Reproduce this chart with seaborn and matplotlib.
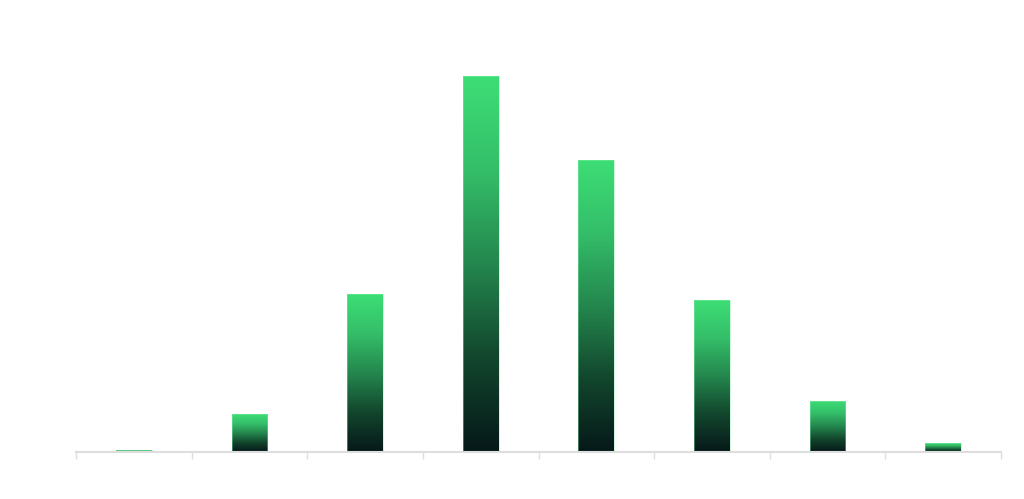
import numpy as np
import pandas as pd
import matplotlib
matplotlib.use("Agg")
import matplotlib.pyplot as plt
import seaborn as sns
from matplotlib.colors import LinearSegmentedColormap

# Data (relative heights, tallest = 100)
categories = ["1", "2", "3", "4", "5", "6", "7", "8"]
values = [0.5, 10.0, 42.0, 100.0, 77.7, 40.4, 13.6, 2.3]

df = pd.DataFrame({"category": categories, "value": values})

sns.set_theme(style="white")
fig = plt.figure(figsize=(10.24, 4.99), dpi=100)
ax = fig.add_axes([76 / 1024, 47 / 499, 925 / 1024, 432 / 499])

sns.barplot(data=df, x="category", y="value", ax=ax, width=0.31,
            color="#3ddc75", saturation=1, edgecolor="none")

stops = [(0.0, (6, 24, 25)), (0.25, (18, 70, 45)), (0.5, (36, 135, 78)),
         (0.75, (52, 190, 105)), (1.0, (61, 222, 118))]
cmap = LinearSegmentedColormap.from_list(
    "grad", [(s, tuple(c / 255 for c in col)) for s, col in stops])
grad = np.linspace(0, 1, 256).reshape(-1, 1)

for p in list(ax.patches):
    x0, y0 = p.get_x(), p.get_y()
    w, h = p.get_width(), p.get_height()
    p.set_facecolor("none")
    im = ax.imshow(grad, cmap=cmap, origin="lower", aspect="auto",
                   extent=[x0, x0 + w, y0, y0 + h], zorder=2, interpolation="bilinear")
    im.set_clip_path(p)
    p.set_edgecolor((0.55, 0.93, 0.68, 0.5))
    p.set_linewidth(0.6)
    p.set_zorder(3)

ax.set_xlim(-0.5, len(categories) - 0.5)
ax.set_ylim(0, 100 * 432 / 376)

for s in ["top", "right", "left"]:
    ax.spines[s].set_visible(False)
ax.spines["bottom"].set_color("#dedede")
ax.spines["bottom"].set_linewidth(1.5)

ax.set_xticks(np.arange(-0.5, len(categories), 1.0))
ax.set_xticklabels([])
ax.tick_params(axis="x", bottom=True, length=5, width=1, color="#dedede")
ax.set_yticks([])
ax.set_xlabel("")
ax.set_ylabel("")
ax.grid(False)

fig.savefig("out.png", dpi=100, facecolor="white")
